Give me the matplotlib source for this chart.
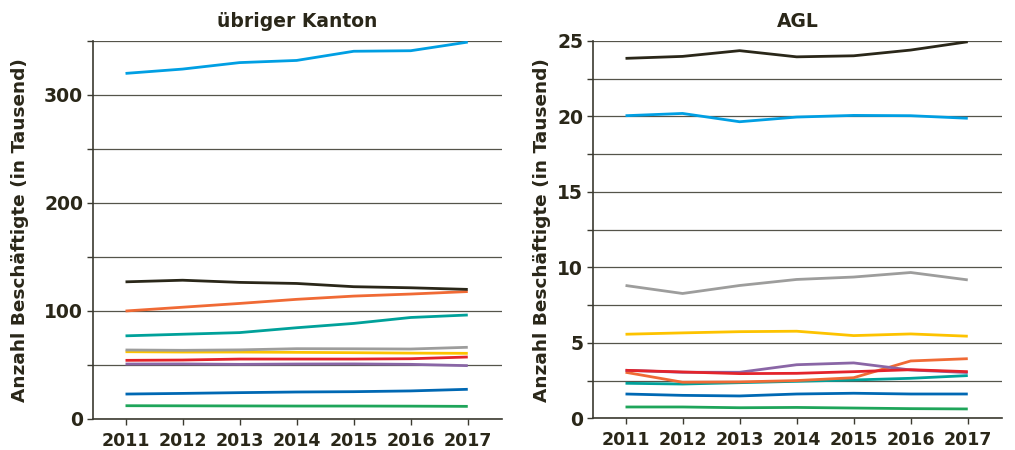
import matplotlib.pyplot as plt
from matplotlib.ticker import MultipleLocator

years = [2011, 2012, 2013, 2014, 2015, 2016, 2017]

# Beschäftigte in Tausend, übriger Kanton
kanton_hellblau = [320, 324, 330, 332, 340.5, 341, 349]
kanton_schwarz = [127, 128.5, 126.5, 125.5, 122.5, 121.5, 120]
kanton_orange = [100, 103.5, 107, 110.8, 113.8, 115.7, 118]
kanton_petrol = [77, 78.5, 80, 84.5, 88.5, 94, 96.3]
kanton_grau = [63.9, 63.6, 64, 65.1, 65, 64.8, 66.4]
kanton_gelb = [62.3, 62, 62, 61.7, 61.4, 61, 60.8]
kanton_rot = [54.3, 54.6, 55.5, 55.5, 55.5, 55.8, 57.4]
kanton_violett = [50.9, 51, 50.6, 50.9, 51, 50.6, 49.4]
kanton_dunkelblau = [23.1, 23.7, 24.4, 25, 25.3, 26, 27.5]
kanton_gruen = [12.3, 12.2, 12.1, 12, 12, 11.9, 11.7]

# Beschäftigte in Tausend, AGL
agl_schwarz = [23.85, 23.98, 24.36, 23.95, 24.02, 24.4, 24.95]
agl_hellblau = [20.05, 20.2, 19.65, 19.96, 20.07, 20.05, 19.88]
agl_grau = [8.8, 8.27, 8.8, 9.2, 9.36, 9.66, 9.17]
agl_gelb = [5.57, 5.66, 5.74, 5.77, 5.48, 5.59, 5.44]
agl_violett = [3.18, 3.05, 3.05, 3.55, 3.67, 3.2, 3.03]
agl_rot = [3.18, 3.07, 2.96, 2.98, 3.09, 3.22, 3.09]
agl_orange = [3.05, 2.39, 2.41, 2.5, 2.69, 3.8, 3.95]
agl_petrol = [2.32, 2.27, 2.36, 2.45, 2.54, 2.65, 2.83]
agl_dunkelblau = [1.61, 1.52, 1.48, 1.61, 1.66, 1.61, 1.61]
agl_gruen = [0.75, 0.75, 0.7, 0.72, 0.68, 0.64, 0.62]

colors = {
    "hellblau": "#009fe3",
    "schwarz": "#2a2719",
    "orange": "#f06a35",
    "petrol": "#00a19a",
    "grau": "#9d9d9c",
    "gelb": "#fdc300",
    "rot": "#e3242b",
    "violett": "#8a66a6",
    "dunkelblau": "#0068b3",
    "gruen": "#1fa55a",
}

kanton = {
    "gruen": kanton_gruen, "dunkelblau": kanton_dunkelblau,
    "violett": kanton_violett, "rot": kanton_rot, "gelb": kanton_gelb,
    "grau": kanton_grau, "petrol": kanton_petrol, "orange": kanton_orange,
    "schwarz": kanton_schwarz, "hellblau": kanton_hellblau,
}
agl = {
    "gruen": agl_gruen, "dunkelblau": agl_dunkelblau, "petrol": agl_petrol,
    "orange": agl_orange, "violett": agl_violett, "rot": agl_rot,
    "gelb": agl_gelb, "grau": agl_grau, "hellblau": agl_hellblau,
    "schwarz": agl_schwarz,
}

text_c = "#2a2719"
plt.rcParams["font.family"] = ["DejaVu Sans"]
plt.rcParams["font.weight"] = "bold"

fig = plt.figure(figsize=(10.15, 4.5), dpi=100)


def create_panel(rect, data, title, ymax, major, minor, label_x):
    ax = fig.add_axes(rect)
    for name, values in data.items():
        ax.plot(years, values, c=colors[name], lw=2.0, solid_capstyle="butt")
    ax.set_xlim(2010.43, 2017.6)
    ax.set_ylim(0, ymax)
    ax.set_xticks(years)
    ax.yaxis.set_major_locator(MultipleLocator(major))
    ax.yaxis.set_minor_locator(MultipleLocator(minor))
    ax.grid(axis="y", which="both", color="#55544a", lw=0.9)
    ax.set_axisbelow(True)
    for side in ["top", "right"]:
        ax.spines[side].set_visible(False)
    for side in ["left", "bottom"]:
        ax.spines[side].set_color("#3b3a30")
        ax.spines[side].set_linewidth(1.2)
    ax.tick_params(which="both", direction="out", length=4, width=1.0,
                   color="#3b3a30", labelcolor=text_c)
    ax.tick_params(axis="x", labelsize=12.5, pad=5)
    ax.tick_params(axis="y", labelsize=13.5, pad=3)
    ax.set_title(title, fontsize=13.5, fontweight="bold", color=text_c, pad=10)
    ax.set_ylabel("Anzahl Beschäftigte (in Tausend)", fontsize=13.3,
                  fontweight="bold", color=text_c)
    ax.yaxis.set_label_coords(label_x, 0.5)
    return ax


create_panel([93 / 1015, 31 / 450, 409 / 1015, 378 / 450], kanton,
             "übriger Kanton", 350, 100, 50, -0.157)
create_panel([593 / 1015, 31.7 / 450, 409 / 1015, 377.3 / 450], agl,
             "AGL", 25, 5, 2.5, -0.103)

fig.savefig("out.png", dpi=100)
